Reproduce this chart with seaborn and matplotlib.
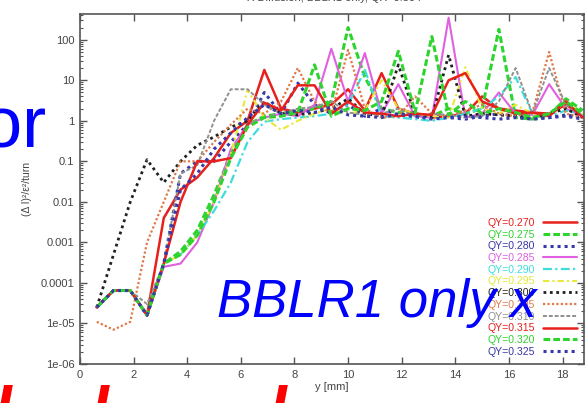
import numpy as np
import pandas as pd
import seaborn as sns
import matplotlib
matplotlib.use("Agg")
import matplotlib.pyplot as plt
from matplotlib.ticker import LogLocator, NullFormatter

# ---------------- data ----------------
y_mm = [0.625, 1.25, 1.875, 2.5, 3.125, 3.75, 4.375, 5.0, 5.625, 6.25,
        6.875, 7.5, 8.125, 8.75, 9.375, 10.0, 10.625, 11.25, 11.875, 12.5,
        13.125, 13.75, 14.375, 15.0, 15.625, 16.25, 16.875, 17.5, 18.125, 18.75]

qy_labels = ["QY=0.270", "QY=0.275", "QY=0.280", "QY=0.285", "QY=0.290", "QY=0.295",
             "QY=0.300", "QY=0.305", "QY=0.310", "QY=0.315", "QY=0.320", "QY=0.325"]

qy270 = [2.5e-5, 6.5e-5, 6.5e-5, 1.6e-5, 4e-3, 0.02, 0.04, 0.12, 0.5, 1.0,
         18, 2.0, 1.6, 2.0, 2.5, 6, 1.8, 15, 2.0, 1.5,
         1.2, 1.3, 1.5, 4, 2, 1.8, 1.6, 1.5, 2.5, 1.3]
qy275 = [2.5e-5, 6.5e-5, 6.5e-5, 1.6e-5, 3e-4, 6e-4, 2e-3, 0.015, 0.15, 0.8,
         1.3, 1.5, 1.8, 2.0, 3, 200, 12, 2.0, 1.6, 1.5,
         1.3, 2, 1.5, 2, 180, 1.2, 1.1, 1.4, 3.5, 1.8]
qy280 = [2.5e-5, 6.5e-5, 6.5e-5, 1.6e-5, 3e-4, 0.05, 0.1, 0.1, 0.3, 0.8,
         5.0, 1.5, 8.5, 2.5, 1.5, 2.5, 1.3, 2, 1.4, 1.2,
         1.3, 1.2, 1.1, 1.3, 1.5, 1.3, 1.1, 1.2, 1.4, 1.2]
qy285 = [2.5e-5, 6.5e-5, 6.5e-5, 1.6e-5, 2.5e-4, 3e-4, 1e-3, 0.01, 0.2, 0.8,
         1.2, 1.5, 1.3, 2.5, 60, 3, 47, 1.5, 8, 1.3,
         1.2, 350, 1.2, 1.5, 5, 1.5, 1.4, 8, 2, 1.3]
qy290 = [2.5e-5, 6.5e-5, 6.5e-5, 1.6e-5, 3e-4, 5e-4, 1.5e-3, 6e-3, 0.03, 0.3,
         0.95, 1.1, 1.2, 1.3, 1.5, 2.5, 18, 1.3, 1.2, 1.1,
         1.0, 1.2, 1.5, 2, 4, 12, 1.5, 1.3, 1.8, 1.4]
qy295 = [2.5e-5, 6.5e-5, 6.5e-5, 1.6e-5, 3e-4, 5e-4, 1.5e-3, 0.01, 0.15, 5.8,
         1.2, 0.6, 1.0, 1.5, 2, 1.5, 1.8, 10, 2, 1.5,
         1.3, 1.2, 21, 2, 1.5, 2.5, 1.5, 1.3, 3, 1.5]
qy300 = [2.5e-5, 5e-4, 0.01, 0.11, 0.03, 0.1, 0.25, 0.4, 0.7, 1.0,
         3.0, 1.5, 1.4, 1.6, 2.0, 3.5, 1.5, 1.3, 24, 1.4,
         1.2, 42, 1.3, 1.5, 1.4, 1.3, 1.2, 1.5, 2.0, 1.2]
qy305 = [1.1e-5, 7e-6, 1.1e-5, 1e-3, 0.01, 0.1, 0.1, 0.3, 0.8, 2.0,
         1.5, 3.0, 20, 3, 1.5, 56, 2, 1.2, 1.3, 4,
         1.5, 1.3, 1.8, 2.5, 1.5, 1.3, 1.6, 50, 1.5, 1.2]
qy310 = [2.5e-5, 6.5e-5, 6.5e-5, 3e-5, 3e-4, 0.05, 0.08, 1.0, 6.0, 6.0,
         2.5, 1.5, 2.0, 2.2, 3, 1.6, 1.4, 1.5, 2, 1.3,
         1.5, 1.4, 1.2, 1.3, 3, 20, 1.5, 20, 2.5, 1.3]
qy315 = [2.5e-5, 6.5e-5, 6.5e-5, 1.6e-5, 3e-4, 0.01, 0.1, 0.1, 0.12, 0.8,
         2.8, 1.8, 7.5, 7.5, 1.5, 3.0, 1.6, 1.5, 1.3, 1.5,
         1.4, 10, 15, 3, 2, 1.5, 1.6, 1.3, 3, 1.2]
qy320 = [2.5e-5, 6.5e-5, 6.5e-5, 1.6e-5, 3e-4, 5e-4, 1.5e-3, 0.01, 0.12, 0.7,
         1.2, 1.3, 1.6, 24, 1.3, 2, 1.8, 3, 52, 1.6,
         120, 1.4, 3, 1.5, 2, 1.6, 1.2, 1.5, 3, 1.5]
qy325 = [2.5e-5, 6.5e-5, 6.5e-5, 1.6e-5, 3e-4, 0.02, 0.05, 0.2, 0.5, 1.2,
         2.5, 1.5, 1.8, 1.6, 2.2, 1.4, 1.3, 1.2, 1.5, 1.3,
         1.1, 1.2, 1.3, 1.2, 1.1, 1.2, 1.1, 1.2, 1.3, 1.1]

series = [qy270, qy275, qy280, qy285, qy290, qy295,
          qy300, qy305, qy310, qy315, qy320, qy325]

x_ticks = [0, 2, 4, 6, 8, 10, 12, 14, 16, 18]
y_ticks = [1e-6, 1e-5, 1e-4, 1e-3, 1e-2, 1e-1, 1, 10, 100]
y_ticklabels = ["1e-06", "1e-05", "0.0001", "0.001", "0.01", "0.1", "1", "10", "100"]

# ---------------- styles ----------------
colors = ["#e8201c", "#2ed42e", "#3838a8", "#e060e0", "#40dcdc", "#e8e838",
          "#202020", "#e07848", "#909090", "#e8201c", "#2ed42e", "#3838a8"]
styles = ["-", (0, (2.2, 1.0)), (0, (1, 1.3)), "-", (0, (4, 1.5, 1, 1.5)),
          (0, (3, 1.5, 1, 1.5)), (0, (1, 1.3)), (0, (1, 1)), (0, (2, 1)),
          "-", (0, (2.2, 1.0)), (0, (1, 1.3))]
widths = [1.8, 2.2, 2.2, 1.5, 1.6, 1.5, 2.0, 1.6, 1.4, 1.8, 2.2, 2.2]

sns.set_theme(style="ticks")
plt.rcParams["font.family"] = ["Liberation Sans", "DejaVu Sans"]

W, H = 585, 403
fig = plt.figure(figsize=(W / 100, H / 100), dpi=100)
ax = fig.add_axes([80 / W, (H - 364) / H, (584 - 80) / W, (364 - 14) / H])

for lab, vals, c, ls, lw in zip(qy_labels, series, colors, styles, widths):
    df = pd.DataFrame({"y": y_mm, "v": vals})
    sns.lineplot(data=df, x="y", y="v", ax=ax, color=c, linestyle=ls,
                 linewidth=lw, label=lab, estimator=None, legend=False)

ax.set_yscale("log")
ax.set_xlim(0, 18.8)
ax.set_ylim(1e-6, 10 ** 2.635)
ax.set_xticks(x_ticks)
ax.set_xticklabels([str(t) for t in x_ticks])
ax.set_yticks(y_ticks)
ax.set_yticklabels(y_ticklabels)
ax.yaxis.set_minor_locator(LogLocator(base=10, subs=np.arange(2, 10), numticks=20))
ax.yaxis.set_minor_formatter(NullFormatter())
ax.xaxis.set_minor_locator(plt.NullLocator())
ax.tick_params(which="major", direction="in", top=True, right=True, length=5, width=1,
               color="#555555", labelsize=8, labelcolor="#444444", pad=4)
ax.tick_params(which="minor", direction="in", left=True, right=True, length=2.5,
               width=0.8, color="#555555")
for s in ax.spines.values():
    s.set_color("#555555")
    s.set_linewidth(1.2)
ax.set_xlabel("y [mm]", fontsize=8, color="#444444", labelpad=2)
ax.set_ylabel("(Δ I)²/ε²/turn", fontsize=7.5, color="#444444", labelpad=6)

handles = ax.get_lines()
leg = ax.legend(handles=handles, labels=qy_labels, loc="upper right",
                bbox_to_anchor=(577 / W, (H - 218) / H), bbox_transform=fig.transFigure,
                frameon=False, markerfirst=False, fontsize=7.6, labelspacing=0.16,
                handlelength=3.2, handletextpad=0.8, borderpad=0, borderaxespad=0)
for t, ln in zip(leg.get_texts(), leg.get_lines()):
    t.set_color(ln.get_color())
    t.set_ha("right")

# title (mostly cut off at top)
fig.text(334 / W, 1.0 + 2 / H, "X Diffusion, BBLR1 only, QX=0.304", ha="center",
         va="center", fontsize=8, color="#444444")

# overlaid slide text
fig.text(46 / W, (H - 147) / H, "or", ha="right", va="baseline", fontsize=52,
         color="#0000ff")
fig.text(217 / W, (H - 317) / H, "BBLR1 only x", ha="left", va="baseline",
         fontsize=38, color="#0000ff", style="italic")
for xp in [3, 100, 278]:
    fig.text(xp / W, (H - 432) / H, "l", ha="center", va="baseline", fontsize=46,
             color="#ff0000", style="italic", weight="bold")

fig.savefig("out.png", dpi=100)
